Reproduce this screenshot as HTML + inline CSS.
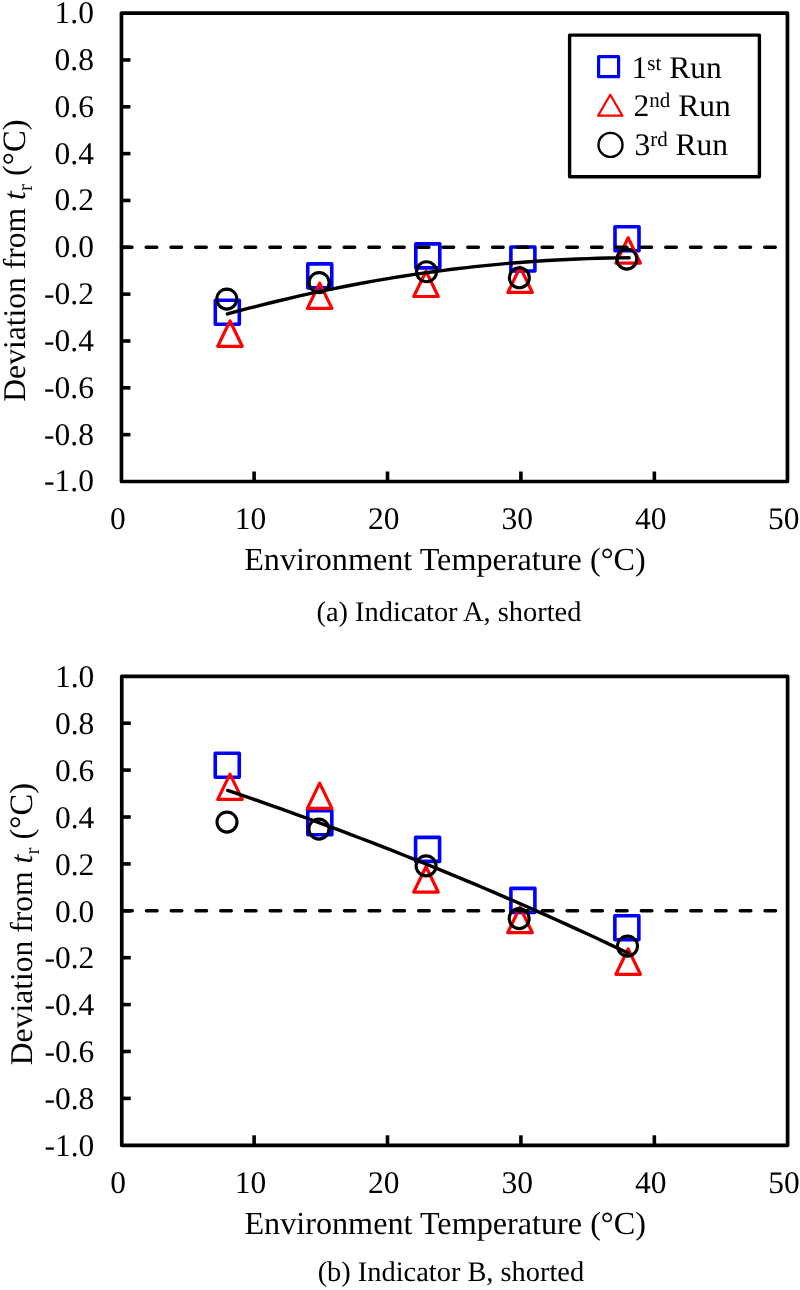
<!DOCTYPE html>
<html><head><meta charset="utf-8"><title>Deviation vs Environment Temperature</title>
<style>html,body{margin:0;padding:0;background:#fff;} svg{display:block;will-change:transform;}</style>
</head><body>
<svg width="800" height="1290" viewBox="0 0 800 1290">
<style>
text { font-family: "Liberation Serif", serif; fill:#000; text-rendering: geometricPrecision; }
.tk { font-size: 31.5px; }
.tt { font-size: 32.2px; }
.yt { font-size: 31.6px; }
.cap { font-size: 28.4px; }
.lg { font-size: 31.5px; }
</style>
<rect width="800" height="1290" fill="#fff"/>
<rect x="215.30" y="300.25" width="24.0" height="24.0" fill="none" stroke="#0000ff" stroke-width="3.6" stroke-linejoin="round"/>
<rect x="307.75" y="263.90" width="24.0" height="24.0" fill="none" stroke="#0000ff" stroke-width="3.6" stroke-linejoin="round"/>
<rect x="415.80" y="243.90" width="24.0" height="24.0" fill="none" stroke="#0000ff" stroke-width="3.6" stroke-linejoin="round"/>
<rect x="510.90" y="247.00" width="24.0" height="24.0" fill="none" stroke="#0000ff" stroke-width="3.6" stroke-linejoin="round"/>
<rect x="615.00" y="226.80" width="24.0" height="24.0" fill="none" stroke="#0000ff" stroke-width="3.6" stroke-linejoin="round"/>
<path d="M230.00,321.00 L242.25,346.30 L217.75,346.30 Z" fill="none" stroke="#ff0000" stroke-width="3.2" stroke-linejoin="round"/>
<path d="M319.65,283.10 L331.90,308.40 L307.40,308.40 Z" fill="none" stroke="#ff0000" stroke-width="3.2" stroke-linejoin="round"/>
<path d="M426.00,271.20 L438.25,296.50 L413.75,296.50 Z" fill="none" stroke="#ff0000" stroke-width="3.2" stroke-linejoin="round"/>
<path d="M520.10,267.15 L532.35,292.45 L507.85,292.45 Z" fill="none" stroke="#ff0000" stroke-width="3.2" stroke-linejoin="round"/>
<path d="M628.15,237.80 L640.40,263.10 L615.90,263.10 Z" fill="none" stroke="#ff0000" stroke-width="3.2" stroke-linejoin="round"/>
<circle cx="226.80" cy="299.10" r="10.0" fill="none" stroke="#000" stroke-width="3.1"/>
<circle cx="319.10" cy="282.60" r="10.0" fill="none" stroke="#000" stroke-width="3.1"/>
<circle cx="426.50" cy="271.70" r="10.0" fill="none" stroke="#000" stroke-width="3.1"/>
<circle cx="519.35" cy="277.75" r="10.0" fill="none" stroke="#000" stroke-width="3.1"/>
<circle cx="626.80" cy="259.10" r="10.0" fill="none" stroke="#000" stroke-width="3.1"/>
<path d="M227.40,313.96 L237.70,311.17 L248.01,308.46 L258.31,305.82 L268.62,303.25 L278.92,300.75 L289.22,298.32 L299.53,295.96 L309.83,293.67 L320.13,291.45 L330.44,289.31 L340.74,287.23 L351.05,285.22 L361.35,283.29 L371.65,281.43 L381.96,279.63 L392.26,277.91 L402.57,276.26 L412.87,274.68 L423.17,273.17 L433.48,271.73 L443.78,270.36 L454.08,269.06 L464.39,267.83 L474.69,266.67 L485.00,265.59 L495.30,264.57 L505.60,263.63 L515.91,262.75 L526.21,261.95 L536.52,261.22 L546.82,260.55 L557.12,259.96 L567.43,259.44 L577.73,258.99 L588.03,258.61 L598.34,258.30 L608.64,258.07 L618.95,257.90 L629.25,257.80" fill="none" stroke="#000" stroke-width="3.4" stroke-linecap="round" stroke-linejoin="round"/>
<line x1="121.45" y1="247.30" x2="785.95" y2="247.30" stroke="#000" stroke-width="3.4" stroke-dasharray="10.6 14.14" stroke-linecap="round"/>
<line x1="121.45" y1="59.94" x2="130.45" y2="59.94" stroke="#000" stroke-width="3.6"/>
<line x1="121.45" y1="106.78" x2="130.45" y2="106.78" stroke="#000" stroke-width="3.6"/>
<line x1="121.45" y1="153.62" x2="130.45" y2="153.62" stroke="#000" stroke-width="3.6"/>
<line x1="121.45" y1="200.46" x2="130.45" y2="200.46" stroke="#000" stroke-width="3.6"/>
<line x1="121.45" y1="247.30" x2="130.45" y2="247.30" stroke="#000" stroke-width="3.6"/>
<line x1="121.45" y1="294.14" x2="130.45" y2="294.14" stroke="#000" stroke-width="3.6"/>
<line x1="121.45" y1="340.98" x2="130.45" y2="340.98" stroke="#000" stroke-width="3.6"/>
<line x1="121.45" y1="387.82" x2="130.45" y2="387.82" stroke="#000" stroke-width="3.6"/>
<line x1="121.45" y1="434.66" x2="130.45" y2="434.66" stroke="#000" stroke-width="3.6"/>
<line x1="254.10" y1="481.50" x2="254.10" y2="471.50" stroke="#000" stroke-width="3.6"/>
<line x1="387.50" y1="481.50" x2="387.50" y2="471.50" stroke="#000" stroke-width="3.6"/>
<line x1="520.90" y1="481.50" x2="520.90" y2="471.50" stroke="#000" stroke-width="3.6"/>
<line x1="654.35" y1="481.50" x2="654.35" y2="471.50" stroke="#000" stroke-width="3.6"/>
<rect x="121.45" y="13.10" width="666.00" height="468.40" fill="none" stroke="#000" stroke-width="3.7" stroke-linejoin="round"/>
<text x="93.9" y="23.10" text-anchor="end" class="tk" transform="rotate(0.02 93 13.10)">1.0</text>
<text x="93.9" y="69.94" text-anchor="end" class="tk" transform="rotate(0.02 93 59.94)">0.8</text>
<text x="93.9" y="116.78" text-anchor="end" class="tk" transform="rotate(0.02 93 106.78)">0.6</text>
<text x="93.9" y="163.62" text-anchor="end" class="tk" transform="rotate(0.02 93 153.62)">0.4</text>
<text x="93.9" y="210.46" text-anchor="end" class="tk" transform="rotate(0.02 93 200.46)">0.2</text>
<text x="93.9" y="257.30" text-anchor="end" class="tk" transform="rotate(0.02 93 247.30)">0.0</text>
<text x="93.9" y="304.14" text-anchor="end" class="tk" transform="rotate(0.02 93 294.14)">-0.2</text>
<text x="93.9" y="350.98" text-anchor="end" class="tk" transform="rotate(0.02 93 340.98)">-0.4</text>
<text x="93.9" y="397.82" text-anchor="end" class="tk" transform="rotate(0.02 93 387.82)">-0.6</text>
<text x="93.9" y="444.66" text-anchor="end" class="tk" transform="rotate(0.02 93 434.66)">-0.8</text>
<text x="93.9" y="491.50" text-anchor="end" class="tk" transform="rotate(0.02 93 481.50)">-1.0</text>
<text x="117.75" y="528.60" text-anchor="middle" class="tk" transform="rotate(0.02 121.45 528.60)">0</text>
<text x="250.40" y="528.60" text-anchor="middle" class="tk" transform="rotate(0.02 254.10 528.60)">10</text>
<text x="383.80" y="528.60" text-anchor="middle" class="tk" transform="rotate(0.02 387.50 528.60)">20</text>
<text x="517.20" y="528.60" text-anchor="middle" class="tk" transform="rotate(0.02 520.90 528.60)">30</text>
<text x="650.65" y="528.60" text-anchor="middle" class="tk" transform="rotate(0.02 654.35 528.60)">40</text>
<text x="783.75" y="528.60" text-anchor="middle" class="tk" transform="rotate(0.02 787.45 528.60)">50</text>
<text x="444.95" y="569.95" text-anchor="middle" class="tt" transform="rotate(0.02 445 569.95)">Environment Temperature (°C)</text>
<text transform="translate(24.50,401.70) rotate(-89.98)" class="yt">Deviation from <tspan font-style="italic">t</tspan><tspan font-size="21" dy="7">r</tspan><tspan dy="-7" font-size="32.6"> (°C)</tspan></text>
<text x="448.9" y="621.40" text-anchor="middle" class="cap" transform="rotate(0.02 448 621.40)">(a) Indicator A, shorted</text>
<rect x="569.6" y="35.1" width="189.8" height="141.7" fill="#fff" stroke="#000" stroke-width="3.4" stroke-linejoin="round"/>
<rect x="598.60" y="56.65" width="20" height="20" fill="none" stroke="#0000ff" stroke-width="3.2" stroke-linejoin="round"/>
<path d="M610.25,94.70 L622.50,115.70 L598.00,115.70 Z" fill="none" stroke="#ff0000" stroke-width="2.2" stroke-linejoin="round"/>
<circle cx="610.50" cy="144.90" r="12" fill="none" stroke="#000" stroke-width="2.4"/>
<text x="631.6" y="78.3" class="lg" transform="rotate(0.02 632 78)">1<tspan font-size="21" dy="-8.3">st</tspan><tspan dy="8.3"> Run</tspan></text>
<text x="633.6" y="116" class="lg" transform="rotate(0.02 632 116)">2<tspan font-size="21" dy="-9.3">nd</tspan><tspan dy="9.3"> Run</tspan></text>
<text x="634.4" y="154.8" class="lg" transform="rotate(0.02 632 154)">3<tspan font-size="21" dy="-9.3">rd</tspan><tspan dy="9.3"> Run</tspan></text>
<rect x="215.25" y="753.30" width="24.0" height="24.0" fill="none" stroke="#0000ff" stroke-width="3.6" stroke-linejoin="round"/>
<rect x="307.80" y="810.80" width="24.0" height="24.0" fill="none" stroke="#0000ff" stroke-width="3.6" stroke-linejoin="round"/>
<rect x="415.60" y="837.40" width="24.0" height="24.0" fill="none" stroke="#0000ff" stroke-width="3.6" stroke-linejoin="round"/>
<rect x="510.90" y="888.40" width="24.0" height="24.0" fill="none" stroke="#0000ff" stroke-width="3.6" stroke-linejoin="round"/>
<rect x="614.85" y="915.75" width="24.0" height="24.0" fill="none" stroke="#0000ff" stroke-width="3.6" stroke-linejoin="round"/>
<path d="M230.00,774.10 L242.25,799.40 L217.75,799.40 Z" fill="none" stroke="#ff0000" stroke-width="3.2" stroke-linejoin="round"/>
<path d="M319.65,783.10 L331.90,808.40 L307.40,808.40 Z" fill="none" stroke="#ff0000" stroke-width="3.2" stroke-linejoin="round"/>
<path d="M426.00,866.75 L438.25,892.05 L413.75,892.05 Z" fill="none" stroke="#ff0000" stroke-width="3.2" stroke-linejoin="round"/>
<path d="M520.00,907.25 L532.25,932.55 L507.75,932.55 Z" fill="none" stroke="#ff0000" stroke-width="3.2" stroke-linejoin="round"/>
<path d="M628.15,949.00 L640.40,974.30 L615.90,974.30 Z" fill="none" stroke="#ff0000" stroke-width="3.2" stroke-linejoin="round"/>
<circle cx="227.00" cy="822.10" r="10.0" fill="none" stroke="#000" stroke-width="3.1"/>
<circle cx="318.90" cy="829.10" r="10.0" fill="none" stroke="#000" stroke-width="3.1"/>
<circle cx="426.10" cy="865.85" r="10.0" fill="none" stroke="#000" stroke-width="3.1"/>
<circle cx="519.15" cy="918.60" r="10.0" fill="none" stroke="#000" stroke-width="3.1"/>
<circle cx="627.50" cy="946.10" r="10.0" fill="none" stroke="#000" stroke-width="3.1"/>
<path d="M227.70,790.43 L237.97,793.91 L248.23,797.42 L258.50,800.97 L268.77,804.55 L279.03,808.18 L289.30,811.83 L299.57,815.53 L309.83,819.26 L320.10,823.03 L330.37,826.83 L340.63,830.67 L350.90,834.55 L361.17,838.47 L371.43,842.42 L381.70,846.40 L391.97,850.43 L402.23,854.49 L412.50,858.58 L422.77,862.72 L433.03,866.89 L443.30,871.09 L453.57,875.33 L463.83,879.61 L474.10,883.93 L484.37,888.28 L494.63,892.67 L504.90,897.10 L515.17,901.56 L525.43,906.06 L535.70,910.59 L545.97,915.16 L556.23,919.77 L566.50,924.41 L576.77,929.09 L587.03,933.81 L597.30,938.57 L607.57,943.36 L617.83,948.18 L628.10,953.05" fill="none" stroke="#000" stroke-width="3.4" stroke-linecap="round" stroke-linejoin="round"/>
<line x1="121.75" y1="910.80" x2="786.10" y2="910.80" stroke="#000" stroke-width="3.4" stroke-dasharray="10.6 14.14" stroke-linecap="round"/>
<line x1="121.75" y1="723.20" x2="130.75" y2="723.20" stroke="#000" stroke-width="3.6"/>
<line x1="121.75" y1="770.10" x2="130.75" y2="770.10" stroke="#000" stroke-width="3.6"/>
<line x1="121.75" y1="817.00" x2="130.75" y2="817.00" stroke="#000" stroke-width="3.6"/>
<line x1="121.75" y1="863.90" x2="130.75" y2="863.90" stroke="#000" stroke-width="3.6"/>
<line x1="121.75" y1="910.80" x2="130.75" y2="910.80" stroke="#000" stroke-width="3.6"/>
<line x1="121.75" y1="957.70" x2="130.75" y2="957.70" stroke="#000" stroke-width="3.6"/>
<line x1="121.75" y1="1004.60" x2="130.75" y2="1004.60" stroke="#000" stroke-width="3.6"/>
<line x1="121.75" y1="1051.50" x2="130.75" y2="1051.50" stroke="#000" stroke-width="3.6"/>
<line x1="121.75" y1="1098.40" x2="130.75" y2="1098.40" stroke="#000" stroke-width="3.6"/>
<line x1="254.10" y1="1145.30" x2="254.10" y2="1135.30" stroke="#000" stroke-width="3.6"/>
<line x1="387.50" y1="1145.30" x2="387.50" y2="1135.30" stroke="#000" stroke-width="3.6"/>
<line x1="520.90" y1="1145.30" x2="520.90" y2="1135.30" stroke="#000" stroke-width="3.6"/>
<line x1="654.35" y1="1145.30" x2="654.35" y2="1135.30" stroke="#000" stroke-width="3.6"/>
<rect x="121.75" y="676.30" width="665.85" height="469.00" fill="none" stroke="#000" stroke-width="3.7" stroke-linejoin="round"/>
<text x="94.3" y="687.10" text-anchor="end" class="tk" transform="rotate(0.02 93 676.30)">1.0</text>
<text x="94.3" y="734.00" text-anchor="end" class="tk" transform="rotate(0.02 93 723.20)">0.8</text>
<text x="94.3" y="780.90" text-anchor="end" class="tk" transform="rotate(0.02 93 770.10)">0.6</text>
<text x="94.3" y="827.80" text-anchor="end" class="tk" transform="rotate(0.02 93 817.00)">0.4</text>
<text x="94.3" y="874.70" text-anchor="end" class="tk" transform="rotate(0.02 93 863.90)">0.2</text>
<text x="94.3" y="921.60" text-anchor="end" class="tk" transform="rotate(0.02 93 910.80)">0.0</text>
<text x="94.3" y="968.50" text-anchor="end" class="tk" transform="rotate(0.02 93 957.70)">-0.2</text>
<text x="94.3" y="1015.40" text-anchor="end" class="tk" transform="rotate(0.02 93 1004.60)">-0.4</text>
<text x="94.3" y="1062.30" text-anchor="end" class="tk" transform="rotate(0.02 93 1051.50)">-0.6</text>
<text x="94.3" y="1109.20" text-anchor="end" class="tk" transform="rotate(0.02 93 1098.40)">-0.8</text>
<text x="94.3" y="1156.10" text-anchor="end" class="tk" transform="rotate(0.02 93 1145.30)">-1.0</text>
<text x="118.05" y="1193.00" text-anchor="middle" class="tk" transform="rotate(0.02 121.75 1193.00)">0</text>
<text x="250.40" y="1193.00" text-anchor="middle" class="tk" transform="rotate(0.02 254.10 1193.00)">10</text>
<text x="383.80" y="1193.00" text-anchor="middle" class="tk" transform="rotate(0.02 387.50 1193.00)">20</text>
<text x="517.20" y="1193.00" text-anchor="middle" class="tk" transform="rotate(0.02 520.90 1193.00)">30</text>
<text x="650.65" y="1193.00" text-anchor="middle" class="tk" transform="rotate(0.02 654.35 1193.00)">40</text>
<text x="783.90" y="1193.00" text-anchor="middle" class="tk" transform="rotate(0.02 787.60 1193.00)">50</text>
<text x="445.18" y="1233.80" text-anchor="middle" class="tt" transform="rotate(0.02 445 1233.80)">Environment Temperature (°C)</text>
<text transform="translate(31.50,1065.20) rotate(-89.98)" class="yt">Deviation from <tspan font-style="italic">t</tspan><tspan font-size="21" dy="7">r</tspan><tspan dy="-7" font-size="32.6"> (°C)</tspan></text>
<text x="450.9" y="1281.00" text-anchor="middle" class="cap" transform="rotate(0.02 448 1281.00)">(b) Indicator B, shorted</text>
</svg>
</body></html>
